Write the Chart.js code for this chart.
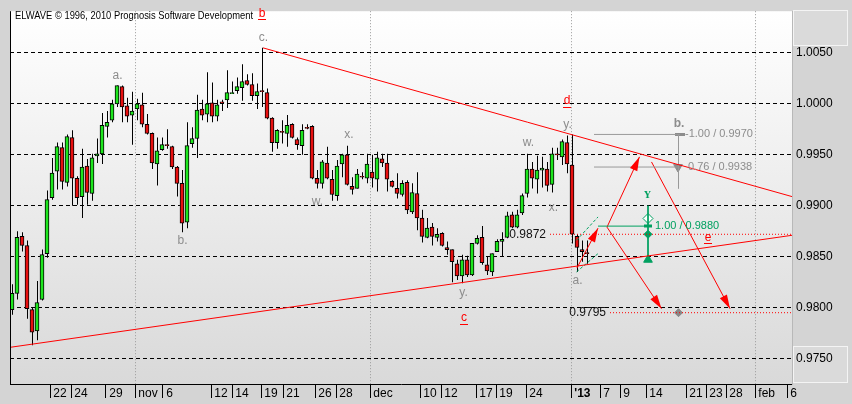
<!DOCTYPE html>
<html lang="en">
<head>
<meta charset="UTF-8" />
<title>ELWAVE</title>
<script src="https://cdn.jsdelivr.net/npm/chart.js"></script>
<style>
  html, body { margin: 0; padding: 0; background: #d4d4d4; }
  #wrap { width: 852px; height: 404px; }
</style>
</head>
<body>
<div id="wrap"><canvas id="chart" width="852" height="404"></canvas></div>
<script>
// candles (one per bar index 0..115)
const opens = [0.9798,0.9814,0.9870,0.9861,0.9798,0.9777,0.9808,0.9853,0.9908,0.9934,
  0.9957,0.9923,0.9967,0.9927,0.9909,0.9939,0.9912,0.9949,0.9951,0.9978,
  0.9984,1.0000,1.0017,0.9998,0.9989,0.9995,0.9999,0.9980,0.9971,0.9941,
  0.9955,0.9960,0.9958,0.9938,0.9922,0.9884,0.9961,0.9966,0.9995,0.9990,
  1.0001,0.9988,1.0002,1.0004,1.0010,1.0013,1.0016,1.0023,1.0019,1.0008,
  1.0013,1.0011,0.9986,0.9962,0.9973,0.9971,0.9980,0.9965,0.9959,0.9977,
  0.9978,0.9927,0.9922,0.9942,0.9926,0.9910,0.9941,0.9950,0.9919,0.9917,
  0.9929,0.9927,0.9933,0.9926,0.9946,0.9942,0.9924,0.9917,0.9911,0.9923,
  0.9894,0.9912,0.9888,0.9869,0.9879,0.9869,0.9873,0.9859,0.9857,0.9843,
  0.9831,0.9847,0.9832,0.9863,0.9869,0.9842,0.9835,0.9855,0.9865,0.9869,
  0.9891,0.9879,0.9893,0.9912,0.9936,0.9926,0.9935,0.9936,0.9921,0.9951,
  0.9948,0.9962,0.9940,0.9870,0.9857,0.9854];
const highs = [0.9823,0.9875,0.9874,0.9866,0.9800,0.9826,0.9857,0.9915,0.9947,0.9962,
  0.9962,0.9970,0.9974,0.9929,0.9956,0.9946,0.9951,0.9966,0.9991,0.9993,
  1.0004,1.0018,1.0018,1.0006,1.0012,1.0005,1.0011,0.9990,0.9972,0.9967,
  0.9967,0.9975,0.9959,0.9939,0.9935,0.9982,0.9977,1.0009,1.0004,1.0031,
  1.0021,1.0004,1.0004,1.0033,1.0022,1.0026,1.0039,1.0029,1.0030,1.0020,
  1.0055,1.0015,0.9987,0.9975,0.9984,0.9989,0.9981,0.9967,0.9980,0.9980,
  0.9979,0.9935,0.9945,0.9958,0.9935,0.9945,0.9951,0.9959,0.9928,0.9936,
  0.9933,0.9951,0.9950,0.9953,0.9951,0.9951,0.9925,0.9932,0.9925,0.9925,
  0.9922,0.9933,0.9896,0.9888,0.9883,0.9878,0.9874,0.9865,0.9857,0.9847,
  0.9852,0.9851,0.9863,0.9871,0.9880,0.9850,0.9853,0.9867,0.9874,0.9894,
  0.9894,0.9896,0.9912,0.9951,0.9943,0.9949,0.9948,0.9943,0.9957,0.9957,
  0.9965,0.9969,0.9970,0.9872,0.9866,0.9866];
const lows = [0.9793,0.9808,0.9855,0.9789,0.9763,0.9768,0.9807,0.9849,0.9906,0.9916,
  0.9916,0.9919,0.9900,0.9901,0.9888,0.9901,0.9905,0.9942,0.9941,0.9967,
  0.9982,0.9997,0.9982,0.9982,0.9960,0.9984,0.9977,0.9970,0.9936,0.9920,
  0.9954,0.9956,0.9936,0.9909,0.9874,0.9878,0.9957,0.9947,0.9984,0.9982,
  0.9982,0.9983,0.9993,0.9996,1.0010,1.0010,1.0003,1.0018,1.0003,0.9995,
  0.9997,0.9985,0.9953,0.9956,0.9961,0.9958,0.9966,0.9955,0.9950,0.9975,
  0.9926,0.9917,0.9917,0.9926,0.9905,0.9905,0.9928,0.9920,0.9911,0.9917,
  0.9926,0.9922,0.9918,0.9914,0.9938,0.9914,0.9918,0.9907,0.9909,0.9892,
  0.9892,0.9876,0.9864,0.9868,0.9861,0.9865,0.9860,0.9852,0.9825,0.9827,
  0.9824,0.9830,0.9831,0.9862,0.9842,0.9832,0.9831,0.9855,0.9850,0.9868,
  0.9878,0.9878,0.9891,0.9908,0.9917,0.9912,0.9918,0.9914,0.9913,0.9945,
  0.9940,0.9932,0.9863,0.9835,0.9845,0.9843];
const closes = [0.9814,0.9869,0.9861,0.9799,0.9776,0.9805,0.9852,0.9906,0.9932,0.9958,
  0.9924,0.9968,0.9927,0.9908,0.9938,0.9913,0.9947,0.9951,0.9979,0.9982,
  1.0000,1.0018,0.9997,0.9988,0.9993,1.0000,0.9980,0.9971,0.9942,0.9954,
  0.9960,0.9959,0.9938,0.9922,0.9883,0.9959,0.9966,0.9994,0.9989,1.0000,
  0.9988,0.9999,1.0001,1.0011,1.0011,1.0017,1.0022,1.0019,1.0008,1.0012,
  1.0012,0.9986,0.9962,0.9974,0.9972,0.9979,0.9967,0.9960,0.9974,0.9976,
  0.9927,0.9922,0.9943,0.9927,0.9911,0.9939,0.9950,0.9921,0.9916,0.9931,
  0.9928,0.9941,0.9927,0.9947,0.9942,0.9926,0.9919,0.9912,0.9922,0.9896,
  0.9913,0.9888,0.9870,0.9878,0.9870,0.9872,0.9861,0.9857,0.9845,0.9831,
  0.9847,0.9832,0.9863,0.9868,0.9844,0.9836,0.9853,0.9865,0.9867,0.9890,
  0.9879,0.9891,0.9910,0.9936,0.9927,0.9935,0.9937,0.9920,0.9951,0.9950,
  0.9963,0.9941,0.9872,0.9859,0.9855,0.9853];

// axes
const xTickPos = [7.6, 11.8, 18.8, 24.6, 30.2, 39.8, 44, 49.8, 54.2, 60.6, 64.8, 71.6,
  81.6, 85.8, 92.8, 96.8, 102.8, 111.8, 117.6, 121.6, 126.8, 134.8, 138.8, 142.8, 148.6, 155];
const xTickLabels = ['22','24','29','nov','6','12','14','19','21','26','28','dec',
  '10','12','17','19','24',"'13",'7','9','14','21','23','28','feb','6'];
const monthLabels = ['nov', 'dec', "'13", 'feb'];
const yTicks = [0.975, 0.980, 0.985, 0.990, 0.995, 1.000, 1.005];

// drawing tools (bar index, price)
const upperTrend = [[50.2, 1.0055], [156, 0.9909]];
const lowerTrend = [[-0.4, 0.9761], [156, 0.9871]];
const level9872 = [[107.6, 0.9872], [156, 0.9872]];
const level9795 = [[119.6, 0.9795], [156, 0.9795]];
const fibTop = [[116.4, 0.9970], [133.6, 0.9970]];
const fib76 = [[116.4, 0.9938], [133.2, 0.9938]];
const fibStem = [[133.3, 0.9970], [133.3, 0.9917]];
const greenStem = [[127.2, 0.9900], [127.2, 0.9848]];
const greenLevel = [[117.2, 0.9880], [127.6, 0.9880]];
const channelUp = [[112.9, 0.9866], [117.2, 0.9889]];
const channelLo = [[112.9, 0.9835], [117.2, 0.9853]];
const arrows = [
  [113.0, 0.9839, 117.2, 0.9878],
  [119.0, 0.9879, 125.5, 0.9948],
  [119.0, 0.9879, 129.9, 0.9799],
  [127.9, 0.9943, 143.6, 0.9799]
];
const waveLabels = [['a.', 21.1, 1.0028], ['b.', 34.1, 0.9866], ['c.', 50.3, 1.0065],
  ['x.', 67.4, 0.9970], ['w.', 61.1, 0.9904], ['y.', 90.3, 0.9815], ['w.', 103.3, 0.9962],
  ['x.', 108.3, 0.9898], ['y.', 111.1, 0.9980], ['a.', 113.1, 0.9826]];
const degreeLabels = [['b', 50.0, 1.0089], ['d', 111.0, 1.0003], ['c', 90.4, 0.9790], ['e', 139.2, 0.9869]];
const priceTags = [['0.9872', 106.8, 0.9872], ['0.9795', 118.8, 0.9795]];

const FONT = "'Liberation Sans', Arial, sans-serif";
const GRAY = '#8c8c8c', GREEN = '#00a060', RED = '#ff0000';

const px = (c, v) => c.scales.x.getPixelForValue(v);
const py = (c, v) => c.scales.y.getPixelForValue(v);

function seg(pts, color, extra) {
  return Object.assign({
    type: 'line', data: pts.map(p => ({x: p[0], y: p[1]})),
    borderColor: color, borderWidth: 1, pointRadius: 0, tension: 0, order: 0
  }, extra || {});
}
function mark(x, y, style, color, extra) {
  return Object.assign({
    type: 'line', showLine: false, data: [{x: x, y: y}],
    pointStyle: style, pointRadius: 4, pointBackgroundColor: color,
    pointBorderColor: color, pointBorderWidth: 1, order: 0
  }, extra || {});
}

function arrowHead(ctx, x1, y1, x2, y2) {
  const a = Math.atan2(y2 - y1, x2 - x1);
  const len = 14, w = 4;
  const bx = x2 - len * Math.cos(a), by = y2 - len * Math.sin(a);
  ctx.beginPath();
  ctx.moveTo(x2, y2);
  ctx.lineTo(bx + w * Math.sin(a), by - w * Math.cos(a));
  ctx.lineTo(bx - w * Math.sin(a), by + w * Math.cos(a));
  ctx.closePath();
  ctx.fill();
}

const background = {
  id: 'background',
  beforeDraw(c) {
    const {ctx, chartArea: a} = c;
    ctx.save();
    ctx.fillStyle = '#d4d4d4';
    ctx.fillRect(0, 0, c.width, c.height);
    const g = ctx.createLinearGradient(0, a.top, 0, a.bottom);
    g.addColorStop(0, '#ffffff');
    g.addColorStop(1, '#d9d9d9');
    ctx.fillStyle = g;
    ctx.fillRect(a.left, a.top, a.right - a.left, a.bottom - a.top);
    // panel buttons on the price scale
    ctx.fillStyle = '#dadada';
    ctx.strokeStyle = '#f4f4f4';
    ctx.fillRect(793, 10, 55, 36);
    ctx.strokeRect(793.5, 10.5, 54, 35);
    ctx.fillRect(793, 346, 55, 37);
    ctx.strokeRect(793.5, 346.5, 54, 36);
    ctx.restore();
  }
};

const overlay = {
  id: 'overlay',
  beforeDatasetsDraw(c) {
    const ctx = c.ctx;
    ctx.save();
    ctx.font = '12px ' + FONT;
    ctx.fillStyle = '#111';
    ctx.textAlign = 'right';
    ctx.textBaseline = 'middle';
    priceTags.forEach(t => ctx.fillText(t[0], px(c, t[1]), py(c, t[2])));
    ctx.restore();
  },
  afterDatasetsDraw(c) {
    const ctx = c.ctx;
    const a = c.chartArea;
    ctx.save();
    ctx.fillStyle = RED;
    arrows.forEach(r => arrowHead(ctx, px(c, r[0]), py(c, r[1]), px(c, r[2]), py(c, r[3])));

    ctx.textBaseline = 'middle';
    ctx.textAlign = 'center';
    ctx.font = '12px ' + FONT;
    ctx.fillStyle = GRAY;
    waveLabels.forEach(t => ctx.fillText(t[0], px(c, t[1]), py(c, t[2])));

    ctx.font = '12px ' + FONT;
    ctx.fillStyle = RED;
    ctx.strokeStyle = RED;
    ctx.lineWidth = 1;
    degreeLabels.forEach(t => {
      const x = px(c, t[1]), y = py(c, t[2]);
      ctx.fillText(t[0], x, y);
      ctx.beginPath();
      ctx.moveTo(Math.round(x - 4), Math.round(y + 6) + 0.5);
      ctx.lineTo(Math.round(x + 4), Math.round(y + 6) + 0.5);
      ctx.stroke();
    });

    ctx.textAlign = 'left';
    ctx.font = '11px ' + FONT;
    ctx.fillStyle = GRAY;
    ctx.fillText('-1.00 / 0.9970', px(c, 134.6), py(c, 0.9970));
    ctx.fillText('0.76 / 0.9938', px(c, 135.2), py(c, 0.9938));
    ctx.fillStyle = GREEN;
    ctx.fillText('1.00 / 0.9880', px(c, 128.6), py(c, 0.9880));
    ctx.textAlign = 'center';
    ctx.font = 'bold 12px ' + FONT;
    ctx.fillStyle = GRAY;
    ctx.fillText('b.', px(c, 133.4), py(c, 0.9981));
    ctx.font = "bold 9px 'DejaVu Serif', serif";
    ctx.fillStyle = GREEN;
    ctx.fillText('Y', px(c, 127.1), py(c, 0.9910));

    // frame line on the left
    ctx.strokeStyle = '#000';
    ctx.beginPath();
    ctx.moveTo(a.left + 0.5, a.top);
    ctx.lineTo(a.left + 0.5, a.bottom);
    ctx.stroke();

    ctx.textAlign = 'left';
    ctx.font = '11px ' + FONT;
    ctx.fillStyle = '#000';
    ctx.fillText('ELWAVE \u00a9 1996, 2010 Prognosis Software Development', 15, 16, 238);
    ctx.restore();
  }
};

const datasets = [
  seg(upperTrend, RED),
  seg(lowerTrend, RED),
  seg(level9872, RED, {borderDash: [1, 2]}),
  seg(level9795, RED, {borderDash: [1, 2]}),
  seg(fibTop, GRAY, {borderColor: '#999'}),
  seg(fib76, GRAY, {borderColor: '#999'}),
  seg(fibStem, GRAY, {borderColor: '#999'}),
  seg(greenStem, GREEN),
  seg(greenLevel, GREEN),
  seg(channelUp, GREEN, {borderDash: [3, 2]}),
  seg(channelLo, GREEN, {borderDash: [3, 2]})
].concat(arrows.map(r => seg([[r[0], r[1]], [r[2], r[3]]], RED)))
 .concat([
  mark(133.6, 0.9970, 'line', GRAY, {pointRadius: 5, pointBorderWidth: 3}),
  mark(133.2, 0.9938, 'triangle', GRAY, {pointRotation: 180, pointRadius: 5}),
  mark(133.3, 0.9795, 'rectRot', '#888', {pointRadius: 4}),
  mark(127.2, 0.98875, 'rectRot', GREEN, {pointRadius: 5, pointBackgroundColor: '#fff'}),
  mark(127.2, 0.9880, 'line', GREEN, {pointRadius: 4, pointBorderWidth: 3}),
  mark(127.2, 0.9872, 'rectRot', GREEN, {pointRadius: 4}),
  mark(127.2, 0.9847, 'triangle', GREEN, {pointRadius: 5})
 ])
 .concat([
  {
    type: 'bar', label: 'body',
    data: opens.map((o, i) => ({x: i, y: [o, closes[i]]})),
    backgroundColor: opens.map((o, i) => closes[i] >= o ? '#1ee61e' : '#e81010'),
    borderColor: '#000', borderWidth: 1, borderSkipped: false,
    barThickness: 4, maxBarThickness: 4, grouped: false, order: 1
  },
  {
    type: 'bar', label: 'wick', xAxisID: 'xw',
    data: lows.map((l, i) => ({x: i, y: [l, highs[i]]})),
    backgroundColor: '#000', borderWidth: 0, inflateAmount: 0,
    barThickness: 1, maxBarThickness: 1, grouped: false, order: 2
  }
 ]);

new Chart(document.getElementById('chart'), {
  type: 'bar',
  data: { datasets: datasets },
  options: {
    responsive: false,
    devicePixelRatio: 1,
    animation: false,
    events: [],
    layout: { padding: { left: 10, top: 10, right: 0, bottom: 0 } },
    plugins: { legend: { display: false }, tooltip: { enabled: false }, title: { display: false } },
    scales: {
      x: {
        type: 'linear', min: -0.4, max: 156, offset: false,
        afterBuildTicks: s => { s.ticks = xTickPos.map(v => ({value: v})); },
        afterFit: s => { s.height = 20; },
        grid: {
          offset: false, drawOnChartArea: true,
          color: ctx => monthLabels.includes(xTickLabels[ctx.index]) ? '#9a9a9a' : 'rgba(0,0,0,0)',
          tickColor: '#000', tickLength: 14, tickWidth: 1
        },
        border: { display: true, color: '#000', dash: [1, 2] },
        ticks: {
          autoSkip: false, maxRotation: 0, minRotation: 0, align: 'start', padding: -12,
          color: '#000',
          font: ctx => ({ family: FONT, size: 12, weight: xTickLabels[ctx.index] === "'13" ? 'bold' : 'normal' }),
          callback: (v, i) => ' ' + xTickLabels[i]
        }
      },
      xw: {
        type: 'linear', min: -0.5, max: 155.9, offset: false, display: false
      },
      y: {
        position: 'right', min: 0.9725, max: 1.0091,
        afterBuildTicks: s => { s.ticks = yTicks.map(v => ({value: v})); },
        afterFit: s => { s.width = 60; },
        grid: { color: '#000', drawTicks: false, lineWidth: 1 },
        border: { display: true, color: '#b8b8b8', dash: [4, 3] },
        ticks: {
          color: '#000', padding: 4,
          font: { family: FONT, size: 12 },
          callback: v => v.toFixed(4)
        }
      }
    }
  },
  plugins: [background, overlay]
});
</script>
</body>
</html>
